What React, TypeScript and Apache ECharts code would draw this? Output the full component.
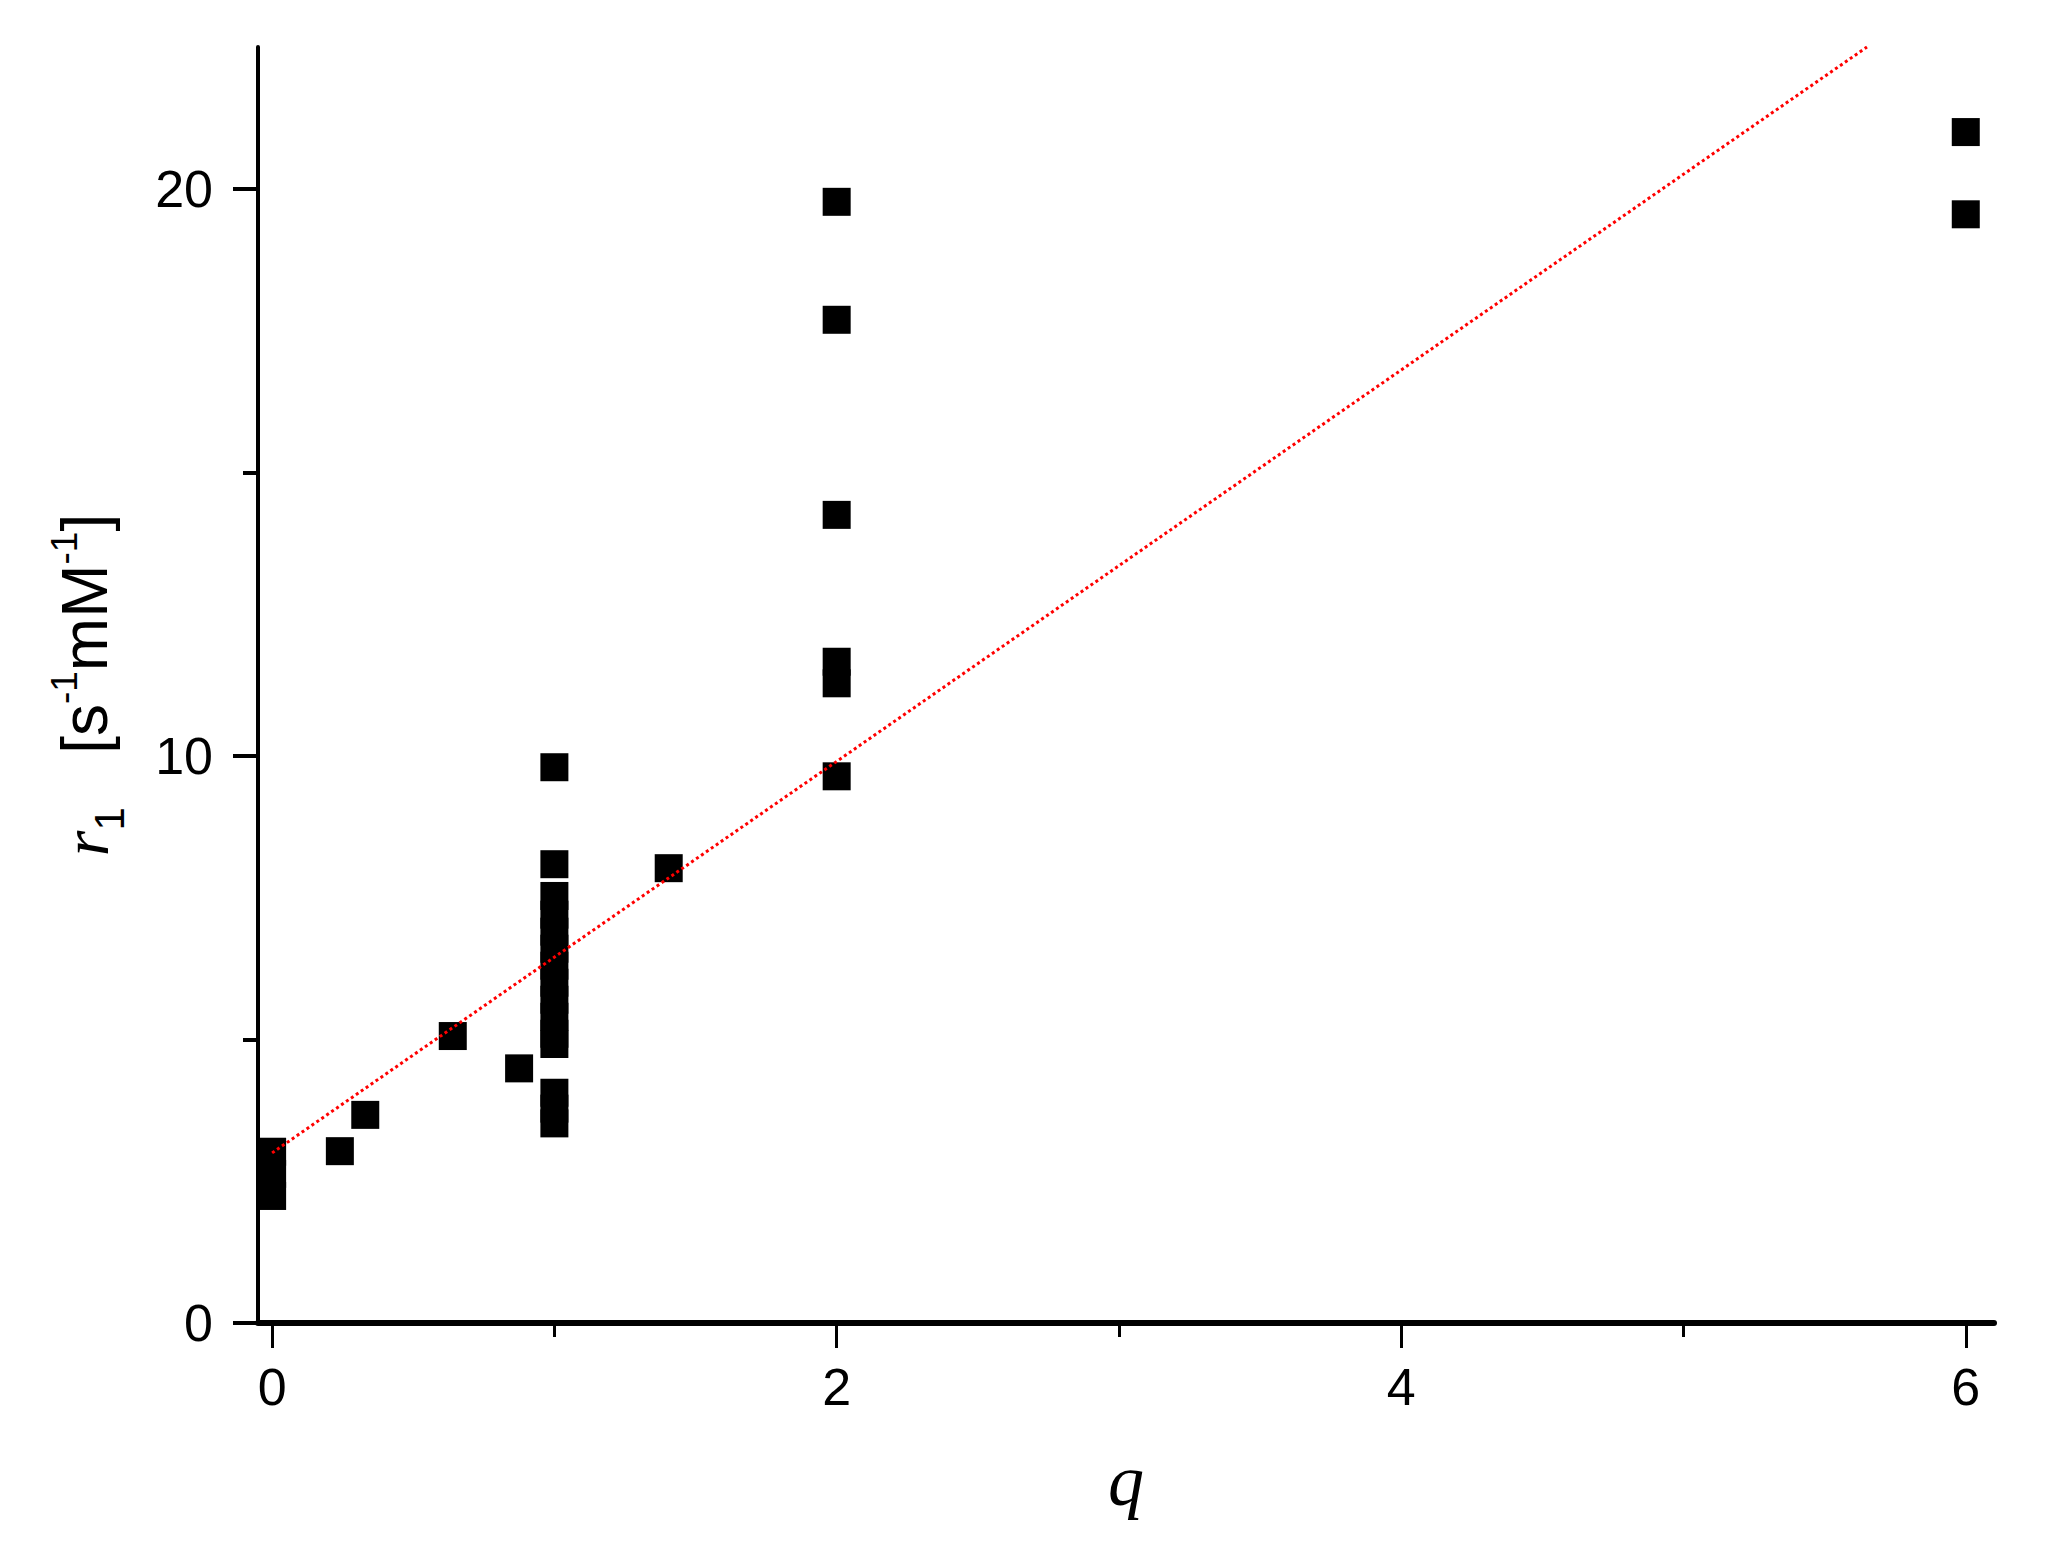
import React, { useEffect, useRef } from "react";
import * as echarts from "echarts";

// Measured data points (q, r1)
const qValues = [
  0, 0, 0,
  0.24, 0.33, 0.64, 0.875,
  1, 1, 1, 1, 1, 1, 1, 1, 1, 1, 1, 1, 1, 1, 1,
  1.405,
  2, 2, 2, 2, 2, 2,
  6, 6,
];
const r1Values = [
  3.02, 2.63, 2.24,
  3.03, 3.67, 5.06, 4.49,
  9.8, 8.09, 7.53, 7.2, 6.9, 6.6, 6.3, 6.0, 5.7, 5.4, 5.1, 4.92, 4.06, 3.78, 3.52,
  8.02,
  19.77, 17.69, 14.25, 11.66, 11.28, 9.64,
  21.0, 19.55,
];

// Linear fit line endpoints
const fitQ = [0, 5.65];
const fitR1 = [3.0, 22.5];

// Ticks
const xMajorTicks = [0, 2, 4, 6];
const xMinorTicks = [1, 3, 5];
const yMajorTicks = [0, 10, 20];
const yMinorTicks = [5, 15];

const X_MIN = -0.05;
const X_MAX = 6.1;
const Y_MIN = 0;
const Y_MAX = 22.5;

export default function App() {
  const ref = useRef<HTMLDivElement>(null);

  useEffect(() => {
    if (!ref.current) return;
    const chart = echarts.init(ref.current, undefined, { renderer: "svg" });

    const scatterData = qValues.map((q, i) => [q, r1Values[i]]);
    const fitData = fitQ.map((q, i) => [q, fitR1[i]]);

    const labelFont = {
      fontFamily: "Liberation Sans",
      fontSize: 52,
      color: "#000",
    };

    chart.setOption({
      animation: false,
      backgroundColor: "#ffffff",
      grid: {
        left: 258,
        right: 55,
        top: 47,
        bottom: 230,
        containLabel: false,
      },
      xAxis: [
        {
          type: "value",
          min: X_MIN,
          max: X_MAX,
          position: "bottom",
          name: "q",
          nameLocation: "middle",
          nameGap: 122,
          nameTextStyle: {
            fontFamily: "Liberation Serif",
            fontStyle: "italic",
            fontSize: 72,
            color: "#000",
          },
          splitLine: { show: false },
          axisLine: {
            show: true,
            onZero: false,
            lineStyle: { color: "#000", width: 6 },
          },
          axisTick: {
            show: true,
            customValues: xMajorTicks,
            length: 25,
            lineStyle: { color: "#000", width: 3 },
          },
          axisLabel: {
            show: true,
            customValues: xMajorTicks,
            margin: 38,
            ...labelFont,
          },
        },
        {
          type: "value",
          min: X_MIN,
          max: X_MAX,
          position: "bottom",
          splitLine: { show: false },
          axisLine: { show: false, onZero: false },
          axisTick: {
            show: true,
            customValues: xMinorTicks,
            length: 14,
            lineStyle: { color: "#000", width: 3 },
          },
          axisLabel: { show: false },
        },
      ],
      yAxis: [
        {
          type: "value",
          min: Y_MIN,
          max: Y_MAX,
          position: "left",
          name:
            "{r|r}{sub|1}{sp|   }{t|[s}{sup|-1}{t|mM}{sup|-1}{t|]}",
          nameLocation: "middle",
          nameGap: 128,
          nameTextStyle: {
            color: "#000",
            rich: {
              r: {
                fontFamily: "Liberation Serif",
                fontStyle: "italic",
                fontSize: 66,
                lineHeight: 90,
                color: "#000",
              },
              sub: {
                fontFamily: "Liberation Sans",
                fontSize: 42,
                lineHeight: 42,
                verticalAlign: "bottom",
                color: "#000",
              },
              sp: {
                fontFamily: "Liberation Sans",
                fontSize: 64,
                lineHeight: 90,
              },
              t: {
                fontFamily: "Liberation Sans",
                fontSize: 64,
                lineHeight: 90,
                color: "#000",
              },
              sup: {
                fontFamily: "Liberation Sans",
                fontSize: 37,
                lineHeight: 37,
                verticalAlign: "top",
                padding: [6, 0, 0, 0],
                color: "#000",
              },
            },
          },
          splitLine: { show: false },
          axisLine: {
            show: true,
            onZero: false,
            lineStyle: { color: "#000", width: 4 },
          },
          axisTick: {
            show: true,
            customValues: yMajorTicks,
            length: 25,
            lineStyle: { color: "#000", width: 4 },
          },
          axisLabel: {
            show: true,
            customValues: yMajorTicks,
            margin: 45,
            ...labelFont,
          },
        },
        {
          type: "value",
          min: Y_MIN,
          max: Y_MAX,
          position: "left",
          splitLine: { show: false },
          axisLine: { show: false, onZero: false },
          axisTick: {
            show: true,
            customValues: yMinorTicks,
            length: 15,
            lineStyle: { color: "#000", width: 4 },
          },
          axisLabel: { show: false },
        },
      ],
      series: [
        {
          type: "scatter",
          xAxisIndex: 0,
          yAxisIndex: 0,
          data: scatterData,
          symbol: "rect",
          symbolSize: 28,
          itemStyle: { color: "#000", opacity: 1 },
          z: 2,
          clip: false,
        },
        {
          type: "line",
          xAxisIndex: 0,
          yAxisIndex: 0,
          data: fitData,
          showSymbol: false,
          symbol: "none",
          lineStyle: { color: "#ff0000", width: 3, type: [3, 3] },
          z: 3,
        },
      ],
    });

    return () => {
      chart.dispose();
    };
  }, []);

  return (
    <div
      ref={ref}
      style={{
        position: "absolute",
        left: 0,
        top: 0,
        width: 2049,
        height: 1553,
      }}
    />
  );
}
